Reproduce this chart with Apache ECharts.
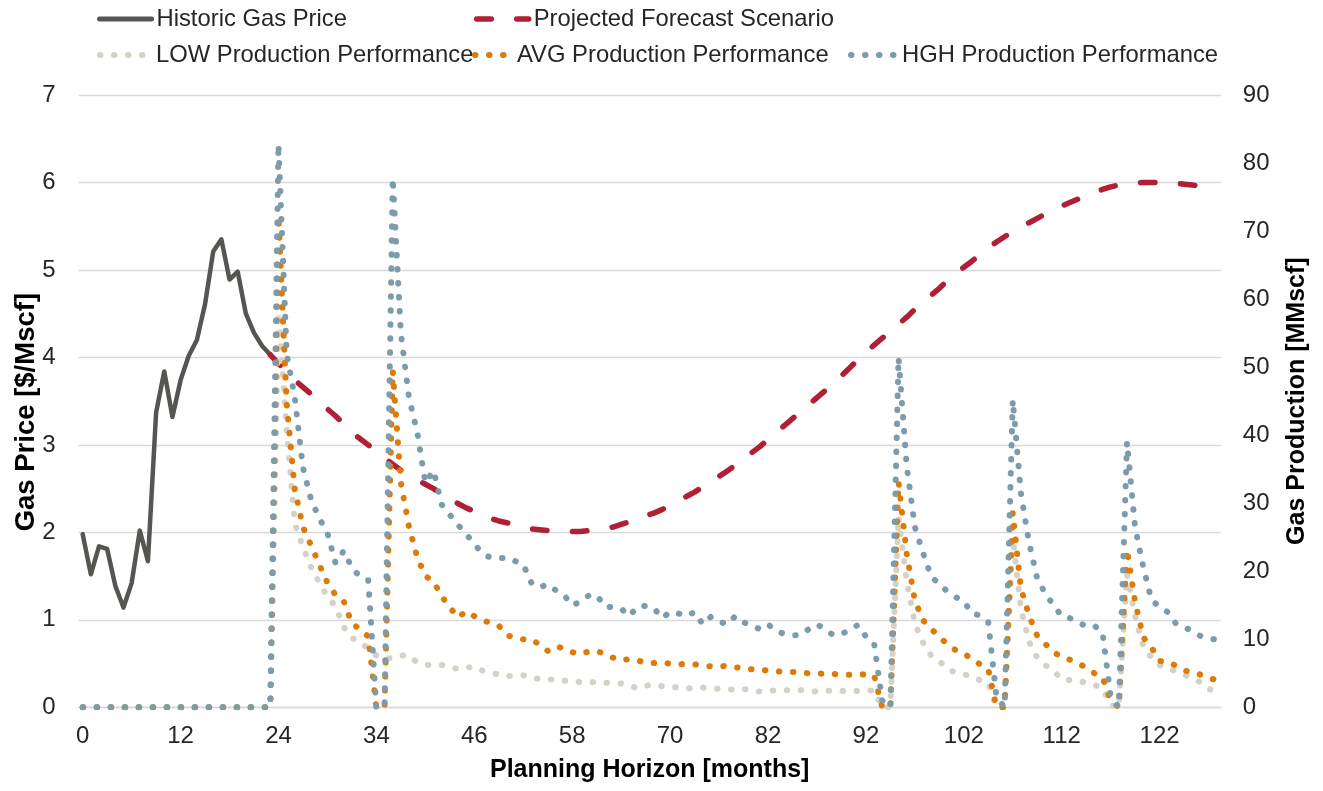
<!DOCTYPE html>
<html><head><meta charset="utf-8">
<script src="https://cdn.jsdelivr.net/npm/echarts@6/dist/echarts.min.js"></script>
<style>html,body{margin:0;padding:0;background:#fff}#c{width:1323px;height:791px}</style>
</head><body><div id="c"></div>
<script>
// Month labels per category (Excel category axis, labels every 12 categories)
const months = [
  0,1,2,3,4,5,6,7,8,9,10,11,12,13,14,15,16,17,18,19,20,21,22,23,24,
  25,26,27,28,29,30,31,32,33,33,34,34,
  35,36,37,38,39,40,41,42,43,44,45,46,47,48,49,50,51,52,53,54,55,56,57,58,59,60,
  61,62,63,64,65,66,67,68,69,70,71,72,73,74,75,76,77,78,79,80,81,82,
  83,84,85,86,87,88,89,90,91,91,92,92,
  93,94,95,96,97,98,99,100,101,101,102,102,
  103,104,105,106,107,108,109,110,111,111,112,112,
  113,114,115,116,117,118,119,120,121,121,122,122,
  123,124,125,126,127,128,129
];

// Gas price [$/Mscf]
const historicPrice = [1.98,1.52,1.84,1.81,1.39,1.14,1.42,2.02,1.67,3.37,
  3.84,3.32,3.74,4.02,4.20,4.61,5.21,5.35,4.89,4.98,
  4.50,4.28,4.13,4.03];
const projectedStart = 23;
const projectedPrice = [4.03,3.93,3.84,3.74,3.66,3.58,3.50,3.41,3.33,3.24,
  3.14,3.07,3.00,2.92,2.85,2.78,2.71,2.65,2.60,2.55,
  2.50,2.44,2.38,2.33,2.28,2.24,2.20,2.16,2.13,2.11,
  2.08,2.06,2.04,2.03,2.02,2.01,2.01,2.01,2.01,2.02,
  2.03,2.04,2.06,2.09,2.12,2.15,2.19,2.22,2.26,2.31,
  2.36,2.41,2.46,2.52,2.58,2.64,2.70,2.77,2.85,2.91,
  2.98,3.06,3.14,3.22,3.30,3.38,3.46,3.54,3.62,3.70,
  3.79,3.88,3.97,4.06,4.14,4.22,4.30,4.38,4.46,4.55,
  4.63,4.71,4.79,4.88,4.96,5.03,5.10,5.18,5.25,5.32,
  5.38,5.44,5.49,5.54,5.59,5.64,5.68,5.73,5.77,5.81,
  5.85,5.89,5.92,5.95,5.97,5.98,5.99,6.00,6.00,6.00,
  6.00,5.99,5.98,5.97,5.96,5.94,5.91];

// Gas production [MMscf]
const lowProd = [0,0,0,0,0,0,0,0,0,0,
  0,0,0,0,0,0,0,0,0,0,
  0,0,0,0,58.0,40.8,27.0,23.5,20.6,18.3,
  16.3,14.8,11.8,10.2,9.6,8.6,7.6,7.2,7.2,7.6,
  7.6,6.6,6.3,6.1,6.2,6.0,5.6,5.8,6.0,5.4,
  5.1,4.8,4.6,4.6,4.7,4.5,4.1,4.1,4.1,3.9,
  3.9,3.7,3.7,3.7,3.6,3.6,3.5,3.2,2.8,3.2,
  3.3,3.1,3.0,2.9,2.8,2.8,2.9,2.8,2.7,2.6,
  2.6,2.7,2.5,2.3,2.4,2.5,2.5,2.5,2.5,2.4,
  2.3,2.4,2.5,2.4,2.3,2.4,2.4,2.5,0,0,
  28.0,18.5,12.3,9.5,7.6,6.8,5.6,5.1,4.9,4.4,
  4.0,3.6,0,0,25.0,14.5,9.6,7.3,6.2,5.4,
  4.1,4.0,3.9,3.6,3.3,2.8,0.3,0,19.5,13.4,
  9.0,7.3,6.2,5.7,5.3,4.8,4.3,3.7,2.7,2.3];
const avgProd = [0,0,0,0,0,0,0,0,0,0,
  0,0,0,0,0,0,0,0,0,0,
  0,0,0,0,72.2,44.7,32.0,26.5,23.8,21.0,
  18.3,16.5,15.6,12.3,11.5,10.4,0,0,49.5,33.0,
  26.5,22.1,19.3,18.5,16.3,14.7,13.2,14.1,13.4,12.8,
  12.4,12.0,10.6,10.2,10.0,10.0,9.2,8.3,9.0,8.6,
  8.1,7.8,8.2,8.3,7.8,7.3,6.9,7.1,6.9,6.5,
  6.5,6.6,6.4,6.3,6.4,6.3,6.2,6.0,6.0,6.1,
  5.9,5.7,5.6,5.5,5.4,5.3,5.2,5.2,5.1,5.0,
  5.0,4.9,4.9,4.8,4.8,4.9,4.8,4.7,0,0,
  33.1,22.6,15.7,12.8,11.5,10.4,9.2,8.4,7.9,7.1,
  6.3,5.6,0,0,28.6,17.5,13.5,10.5,9.3,8.1,
  7.4,7.0,6.5,5.8,5.0,4.4,1.0,0,23.2,15.5,
  10.3,8.8,6.8,6.7,6.1,5.4,5.2,4.8,4.3,4.0];
const hghProd = [0,0,0,0,0,0,0,0,0,0,
  0,0,0,0,0,0,0,0,0,0,
  0,0,0,0,82.8,52.0,45.5,35.2,30.5,27.8,
  25.6,21.2,23.0,20.5,19.2,18.7,0,0,77.8,55.0,
  45.5,40.5,33.0,34.8,29.8,28.3,26.8,25.5,24.0,22.6,
  22.0,21.9,22.0,21.5,21.0,18.3,17.6,18.1,17.2,16.5,
  15.0,15.5,16.4,16.5,14.8,14.7,14.5,13.4,14.8,14.9,
  14.6,13.1,14.0,13.8,13.4,14.0,12.2,13.3,12.6,12.2,
  13.4,12.5,12.0,11.5,12.2,11.2,10.8,10.6,10.6,11.5,
  12.2,11.5,10.6,10.8,11.3,12.1,10.4,9.4,1.0,0,
  51.4,35.5,26.5,22.7,19.2,18.1,17.0,16.2,15.6,13.8,
  13.5,12.5,1.5,0,45.2,31.5,24.2,18.9,16.7,15.0,
  13.4,13.1,12.5,11.9,12.0,11.0,1.6,0,39.0,26.4,
  20.6,15.8,14.7,14.0,12.3,11.8,11.2,10.5,10.2,9.9];

const seriesNames = ['Historic Gas Price','Projected Forecast Scenario',
  'LOW Production Performance','AVG Production Performance','HGH Production Performance'];

const catKeys = months.map((m, i) => String(i));
const projectedData = new Array(projectedStart).fill(null).concat(projectedPrice);

const FONT = "'Liberation Sans', Arial, sans-serif";
const chart = echarts.init(document.getElementById('c'), null, {renderer: 'canvas'});

function legendAt(name, left, top, w, lw) {
  return {
    data: [name], left: left, top: top, orient: 'horizontal', padding: 0,
    itemWidth: w, itemHeight: 14, itemGap: 0, selectedMode: false,
    itemStyle: {opacity: 0},
    lineStyle: {width: lw},
    textStyle: {fontFamily: FONT, fontSize: 23.8, color: '#262626'}
  };
}
const dot = [0.5, 13.5];

chart.setOption({
  animation: false,
  backgroundColor: '#ffffff',
  grid: {left: 78.6, right: 102.2, top: 95, bottom: 83.7, containLabel: false},
  legend: [
    legendAt(seriesNames[0], 97, 7, 52, 5),
    legendAt(seriesNames[1], 474, 7, 52, 5.5),
    legendAt(seriesNames[2], 97, 43, 51, 6),
    legendAt(seriesNames[3], 472, 43, 37, 6),
    legendAt(seriesNames[4], 848, 43, 46, 6)
  ],
  xAxis: {
    type: 'category', data: catKeys, boundaryGap: true,
    axisLine: {show: true, lineStyle: {color: '#d9d9d9', width: 1.3}},
    axisTick: {show: false},
    axisLabel: {interval: 11, margin: 17, fontFamily: FONT, fontSize: 24, color: '#262626',
      formatter: (v, i) => String(months[Number(v)])},
    splitLine: {show: false},
    name: 'Planning Horizon [months]', nameLocation: 'middle', nameGap: 50,
    nameTextStyle: {fontFamily: FONT, fontSize: 25, fontWeight: 'bold', color: '#000'}
  },
  yAxis: [{
    type: 'value', min: 0, max: 7, interval: 1, position: 'left',
    axisLine: {show: false}, axisTick: {show: false},
    axisLabel: {margin: 23, fontFamily: FONT, fontSize: 24, color: '#262626'},
    splitLine: {show: true, lineStyle: {color: '#d9d9d9', width: 1.3}},
    name: 'Gas Price [$/Mscf]', nameLocation: 'middle', nameGap: 38, nameRotate: 90,
    nameMoveOverlap: false,
    nameTextStyle: {fontFamily: FONT, fontSize: 27.5, fontWeight: 'bold', color: '#000',
      padding: [0, 22, 0, 0]}
  }, {
    type: 'value', min: 0, max: 90, interval: 10, position: 'right',
    axisLine: {show: false}, axisTick: {show: false},
    axisLabel: {margin: 22, fontFamily: FONT, fontSize: 24, color: '#262626'},
    splitLine: {show: false},
    name: 'Gas Production [MMscf]', nameLocation: 'middle', nameGap: 64, nameRotate: 90,
    nameTextStyle: {fontFamily: FONT, fontSize: 25, fontWeight: 'bold', color: '#000'}
  }],
  series: [{
    name: seriesNames[0], type: 'line', yAxisIndex: 0, data: historicPrice,
    symbol: 'none', showSymbol: false,
    lineStyle: {color: '#555551', width: 4.5, join: 'round', cap: 'round'},
    itemStyle: {color: '#555551'}
  }, {
    name: seriesNames[1], type: 'line', yAxisIndex: 0, data: projectedData,
    symbol: 'none', showSymbol: false, connectNulls: false,
    lineStyle: {color: '#B01F35', width: 5.5, type: [14.5, 25.5], cap: 'round', join: 'round'},
    itemStyle: {color: '#B01F35'}
  }, {
    name: seriesNames[2], type: 'line', yAxisIndex: 1, data: lowProd,
    symbol: 'none', showSymbol: false,
    lineStyle: {color: '#D5D1C6', width: 6, type: dot, cap: 'round', join: 'round'},
    itemStyle: {color: '#D5D1C6'}
  }, {
    name: seriesNames[3], type: 'line', yAxisIndex: 1, data: avgProd,
    symbol: 'none', showSymbol: false,
    lineStyle: {color: '#DD7A08', width: 6, type: dot, cap: 'round', join: 'round'},
    itemStyle: {color: '#DD7A08'}
  }, {
    name: seriesNames[4], type: 'line', yAxisIndex: 1, data: hghProd,
    symbol: 'none', showSymbol: false,
    lineStyle: {color: '#7C9CAC', width: 6, type: dot, cap: 'round', join: 'round'},
    itemStyle: {color: '#7C9CAC'}
  }]
});
</script>
</body></html>
